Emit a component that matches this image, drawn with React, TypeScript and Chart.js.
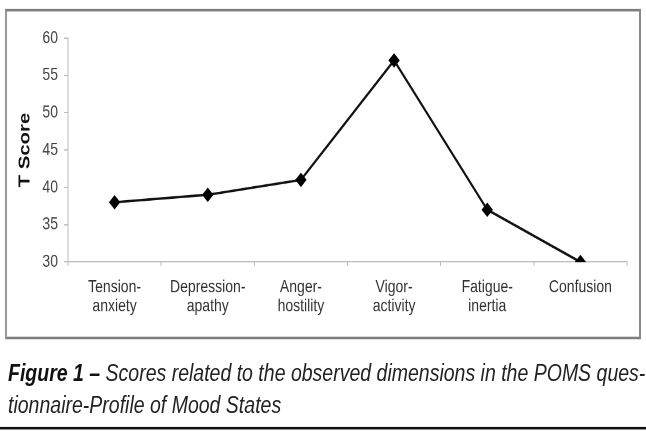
import React, { useEffect, useRef } from "react";
import { Chart, registerables } from "chart.js";

Chart.register(...registerables);

// ---- data ----
const categories: string[][] = [
  ["Tension-", "anxiety"],
  ["Depression-", "apathy"],
  ["Anger-", "hostility"],
  ["Vigor-", "activity"],
  ["Fatigue-", "inertia"],
  ["Confusion"],
];
const tScores: number[] = [38, 39, 41, 57, 37, 30];
const yTickValues: number[] = [30, 35, 40, 45, 50, 55, 60];
const yTitle = "T Score";
const captionBold = "Figure 1 –";
const captionLine1 = " Scores related to the observed dimensions in the POMS ques-";
const captionLine2 = "tionnaire-Profile of Mood States";

const FONT = "'Liberation Sans', Arial, Helvetica, sans-serif";
const K = 432 / 340; // vertical stretch of the whole figure

export default function App() {
  const canvasRef = useRef<HTMLCanvasElement | null>(null);

  useEffect(() => {
    if (!canvasRef.current) return;
    const chart = new Chart(canvasRef.current, {
      type: "line",
      data: {
        labels: categories as any,
        datasets: [
          {
            data: tScores,
            borderColor: "#111",
            borderWidth: 2,
            pointStyle: "rectRot",
            pointRadius: 5,
            pointBackgroundColor: "#000",
            pointBorderColor: "#000",
            pointBorderWidth: 1,
            tension: 0,
            fill: false,
          },
        ],
      },
      options: {
        animation: false,
        responsive: true,
        maintainAspectRatio: false,
        devicePixelRatio: 2,
        layout: { padding: { top: 29.9, right: 19, bottom: 83.8, left: 0 } },
        plugins: {
          legend: { display: false },
          tooltip: { enabled: false },
        },
        scales: {
          x: {
            type: "category",
            offset: true,
            grid: {
              offset: true,
              drawOnChartArea: false,
              drawTicks: true,
              tickLength: 3,
              color: "#bdbdbd",
              lineWidth: 1,
            },
            border: { display: true, color: "#bdbdbd", width: 1 },
            ticks: {
              color: "#333",
              font: { family: FONT, size: 14, lineHeight: 1.1 },
              padding: 9,
              maxRotation: 0,
              minRotation: 0,
              autoSkip: false,
            },
            afterFit: (s: any) => {
              s.height = 50;
            },
          },
          y: {
            min: 30,
            max: 60,
            afterBuildTicks: (s: any) => {
              s.ticks = yTickValues.map((v) => ({ value: v }));
            },
            grid: {
              drawOnChartArea: false,
              drawTicks: true,
              tickLength: 4,
              color: "#bdbdbd",
            },
            border: { display: true, color: "#bdbdbd", width: 1 },
            ticks: {
              color: "#444",
              font: { family: FONT, size: 14 },
              padding: 6,
            },
            title: {
              display: true,
              text: yTitle,
              color: "#111",
              font: { family: FONT, size: 16, weight: "bold" },
              padding: { top: 15.4, bottom: 0 },
            },
            afterFit: (s: any) => {
              s.width = 68;
            },
          },
        },
      } as any,
    });
    return () => chart.destroy();
  }, []);

  return (
    <div
      style={{
        position: "fixed",
        left: 0,
        top: 0,
        width: 646,
        height: 340,
        background: "#fff",
        transform: `scaleY(${K})`,
        transformOrigin: "0 0",
        overflow: "hidden",
      }}
    >
      <div
        style={{
          position: "absolute",
          left: 5,
          top: 7,
          width: 636,
          height: 260,
          boxSizing: "border-box",
          borderTop: "2px solid #7d7d7d",
          borderLeft: "2px solid #9a9a9a",
          borderRight: "2px solid #8a8a8a",
          borderBottom: "2px solid #7d7d7d",
        }}
      />
      <div style={{ position: "absolute", left: 0, top: 0, width: 646, height: 340 }}>
        <canvas ref={canvasRef} />
      </div>
      <div
        style={{
          position: "absolute",
          left: 8,
          top: 281.4,
          fontFamily: FONT,
          fontSize: 19.5,
          lineHeight: "24.7px",
          fontStyle: "italic",
          color: "#222",
          whiteSpace: "nowrap",
        }}
      >
        <span style={{ fontWeight: "bold", color: "#111" }}>{captionBold}</span>
        <span>{captionLine1}</span>
        <br />
        <span>{captionLine2}</span>
      </div>
      <div
        style={{
          position: "absolute",
          left: 0,
          top: 336,
          width: 646,
          height: 1.8,
          background: "#111",
        }}
      />
    </div>
  );
}
